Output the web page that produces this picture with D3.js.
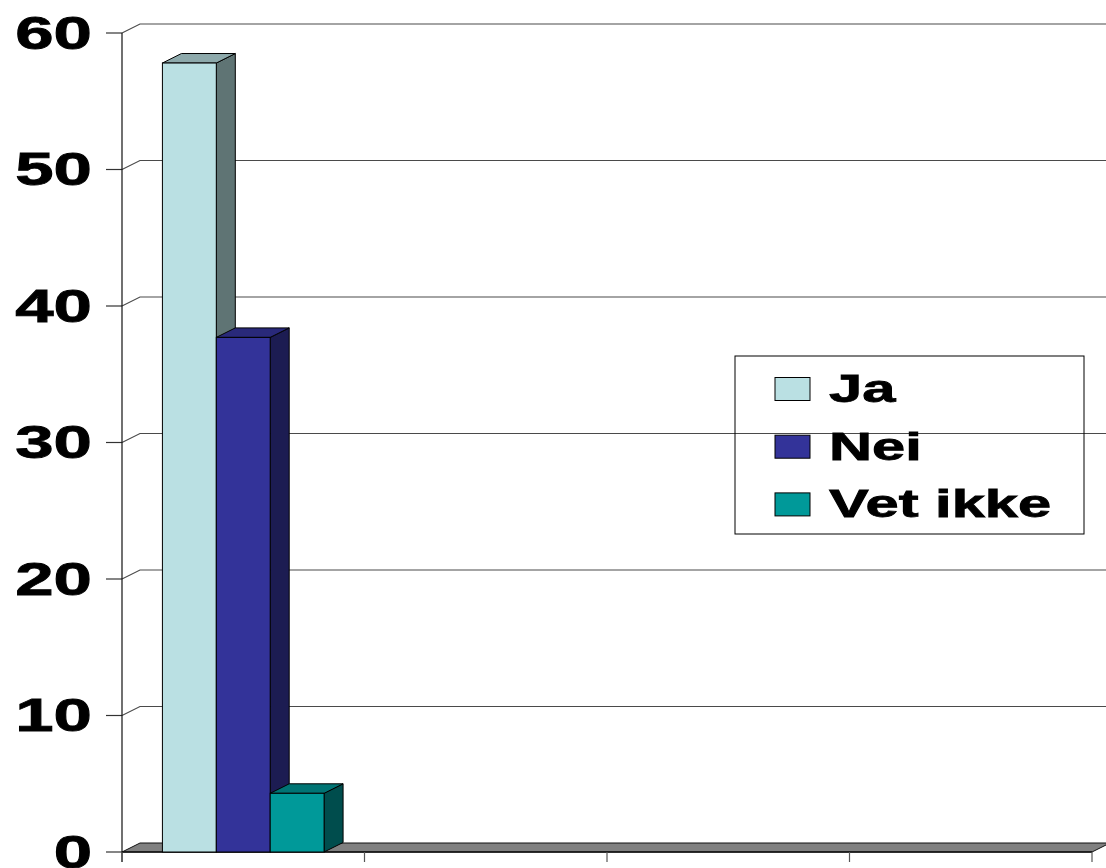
<!DOCTYPE html>
<html>
<head>
<meta charset="utf-8">
<script src="https://cdn.jsdelivr.net/npm/d3@7"></script>
<style>
  html, body { margin: 0; padding: 0; background: #fff; }
  svg { display: block; }
  text { font-family: "Liberation Sans", Arial, sans-serif; font-weight: bold; }
</style>
</head>
<body>
<svg id="chart" width="1106" height="868"></svg>
<script>
// ---- data ----
const categories = ["1", "2", "3", "4"];
const seriesNames = ["Ja", "Nei", "Vet ikke"];
const jaValues = [57.8, null, null, null];
const neiValues = [37.7, null, null, null];
const vetIkkeValues = [4.3, null, null, null];
const yTicks = [0, 10, 20, 30, 40, 50, 60];

const seriesColors = {
  "Ja":       { front: "#BAE0E3", side: "#5F7474", top: "#8DA9AB" },
  "Nei":      { front: "#333399", side: "#1C1C52", top: "#29297A" },
  "Vet ikke": { front: "#009999", side: "#004D4D", top: "#007474" }
};
const seriesValues = [jaValues, neiValues, vetIkkeValues];

// ---- layout ----
const svg = d3.select("#chart");
const left = 122, right = 1092, bottom = 852, topY = 33;
const wallDx = 18, wallDy = -9;
const barDx = 19, barDy = -9.5;

const y = d3.scaleLinear().domain([0, 60]).range([bottom, topY]);
const x0 = d3.scaleBand().domain(categories).range([left, right]).padding(0);
const gap = x0.step() / 3;
const x1 = d3.scaleBand().domain(seriesNames).range([gap / 2, x0.step() - gap / 2]).padding(0);

// gridlines (back wall) with diagonal from front axis
const grid = svg.append("g");
yTicks.forEach(t => {
  const yy = y(t);
  if (t > 0) {
    grid.append("path")
      .attr("d", `M${left},${yy} L${left + wallDx},${yy + wallDy} L${1106 + 2},${yy + wallDy}`)
      .attr("fill", "none").attr("stroke", "#4a4a4a").attr("stroke-width", 1.1);
  }
  grid.append("line")
    .attr("x1", left - 16).attr("x2", left).attr("y1", yy).attr("y2", yy)
    .attr("stroke", "#333").attr("stroke-width", 1.2);
});

// floor
svg.append("path")
  .attr("d", `M${left},${bottom} L${right},${bottom} L${right + wallDx},${bottom + wallDy} L${left + wallDx},${bottom + wallDy} Z`)
  .attr("fill", "#808080").attr("stroke", "#111").attr("stroke-width", 1);

// y axis front line
svg.append("line")
  .attr("x1", left).attr("x2", left).attr("y1", y(60)).attr("y2", bottom + 10)
  .attr("stroke", "#111").attr("stroke-width", 1.2);
svg.append("line")
  .attr("x1", left).attr("x2", right).attr("y1", bottom).attr("y2", bottom)
  .attr("stroke", "#111").attr("stroke-width", 1.5);

// category ticks
const catEdges = categories.map(c => x0(c)).concat([x0(categories[categories.length - 1]) + x0.bandwidth()]);
catEdges.forEach(cx => {
  svg.append("line")
    .attr("x1", cx).attr("x2", cx).attr("y1", bottom).attr("y2", bottom + 10)
    .attr("stroke", "#555").attr("stroke-width", 1.2);
});

// y tick labels
yTicks.forEach(t => {
  svg.append("text")
    .attr("transform", `translate(92,${y(t) + 15.5}) scale(1.5,1)`)
    .attr("text-anchor", "end")
    .attr("font-size", 46)
    .attr("fill", "#000").attr("stroke", "#000").attr("stroke-width", 0.8)
    .text(t);
});

// bars
const bars = svg.append("g");
categories.forEach((cat, ci) => {
  seriesNames.forEach((s, si) => {
    const v = seriesValues[si][ci];
    if (v == null) return;
    const bx = x0(cat) + x1(s);
    const w = x1.bandwidth();
    const ty = y(v), by = y(0);
    const col = seriesColors[s];
    bars.append("path")
      .attr("d", `M${bx + w},${ty} L${bx + w + barDx},${ty + barDy} L${bx + w + barDx},${by + barDy} L${bx + w},${by} Z`)
      .attr("fill", col.side).attr("stroke", "#000").attr("stroke-width", 1).attr("stroke-linejoin", "round");
    bars.append("path")
      .attr("d", `M${bx},${ty} L${bx + barDx},${ty + barDy} L${bx + w + barDx},${ty + barDy} L${bx + w},${ty} Z`)
      .attr("fill", col.top).attr("stroke", "#000").attr("stroke-width", 1).attr("stroke-linejoin", "round");
    bars.append("rect")
      .attr("x", bx).attr("y", ty).attr("width", w).attr("height", by - ty)
      .attr("fill", col.front).attr("stroke", "#000").attr("stroke-width", 1);
  });
});

// legend
const lg = svg.append("g");
lg.append("rect")
  .attr("x", 735).attr("y", 356).attr("width", 349).attr("height", 178)
  .attr("fill", "none").attr("stroke", "#000").attr("stroke-width", 1);
seriesNames.forEach((s, i) => {
  const sy = 377.5 + i * 57.7;
  lg.append("rect")
    .attr("x", 775).attr("y", sy).attr("width", 35).attr("height", 23)
    .attr("fill", seriesColors[s].front).attr("stroke", "#000").attr("stroke-width", 1);
  lg.append("text")
    .attr("transform", `translate(829,${sy + 24.5}) scale(1.53,1)`)
    .attr("font-size", 39)
    .attr("fill", "#000").attr("stroke", "#000").attr("stroke-width", 0.8)
    .text(s);
});
</script>
</body>
</html>
